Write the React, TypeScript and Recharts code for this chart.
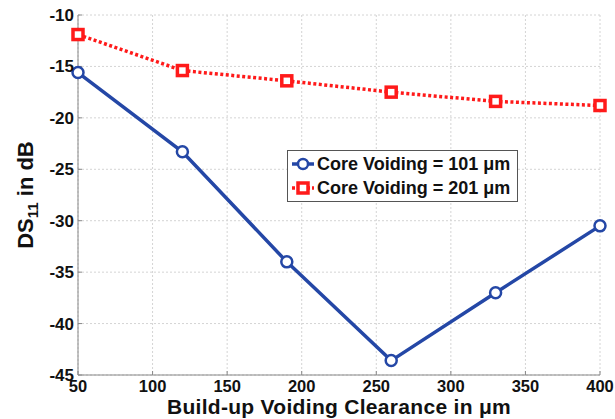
import React from 'react';
import { LineChart, Line, XAxis, YAxis, CartesianGrid } from 'recharts';

const clearance = [50, 120, 190, 260, 330, 400];
const core101 = [-15.6, -23.3, -34.0, -43.6, -37.0, -30.5];
const core201 = [-11.9, -15.4, -16.4, -17.5, -18.4, -18.8];
const xTicks = [50, 100, 150, 200, 250, 300, 350, 400];
const yTicks = [-45, -40, -35, -30, -25, -20, -15, -10];
const seriesNames = ['Core Voiding = 101 \u03BCm', 'Core Voiding = 201 \u03BCm'];

const data = clearance.map((x, i) => ({ x, a: core101[i], b: core201[i] }));

const BLUE = '#2447a6';
const RED = '#ff1a1a';
const FONT = '"Liberation Sans", Arial, sans-serif';

const BlueDot = (props: any) => {
  const { cx, cy } = props;
  if (cx == null || cy == null) return null;
  return <circle cx={cx} cy={cy} r={5.5} fill="white" stroke={BLUE} strokeWidth={2.5} />;
};
const RedDot = (props: any) => {
  const { cx, cy } = props;
  if (cx == null || cy == null) return null;
  return <rect x={cx - 5} y={cy - 5} width={10} height={10} fill="white" stroke={RED} strokeWidth={3.5} />;
};

const LegendBox = () => (
  <div style={{ position: 'absolute', left: 287, top: 150, width: 231, height: 52, border: '1px solid #555', background: 'white', fontFamily: FONT, fontWeight: 'bold', fontSize: 18, color: '#111', boxSizing: 'border-box', paddingTop: 1 }}>
    {[0, 1].map((i) => (
      <div key={i} style={{ display: 'flex', alignItems: 'center', height: 24, whiteSpace: 'nowrap' }}>
        <svg width={26} height={20} style={{ marginLeft: 2, marginRight: 1 }}>
          {i === 0 ? (
            <>
              <line x1={2} y1={10} x2={24} y2={10} stroke={BLUE} strokeWidth={3.5} />
              <circle cx={13} cy={10} r={5} fill="white" stroke={BLUE} strokeWidth={2.5} />
            </>
          ) : (
            <>
              <line x1={2} y1={10} x2={24} y2={10} stroke={RED} strokeWidth={3.5} strokeDasharray="3 2" />
              <rect x={8} y={5} width={10} height={10} fill="white" stroke={RED} strokeWidth={3.5} />
            </>
          )}
        </svg>
        <span>{seriesNames[i]}</span>
      </div>
    ))}
  </div>
);

const YTitle = () => (
  <text x={25} y={195} transform="rotate(-90 25 195)" textAnchor="middle" dominantBaseline="central" fontFamily={FONT} fontWeight="bold" fontSize={22} fill="#111">
    DS<tspan fontSize={15} dy={7}>11</tspan>
    <tspan dy={-7}> in dB</tspan>
  </text>
);

const XTitle = (props: any) => {
  const vb = props.viewBox || { x: 78, y: 375, width: 522, height: 44 };
  const cx = vb.x + vb.width / 2;
  return (
    <text x={cx} y={vb.y + 39} textAnchor="middle" fontFamily={FONT} fontWeight="bold" fontSize={21} letterSpacing={0.3} fill="#111">
      Build-up Voiding Clearance in {'\u03BC'}m
    </text>
  );
};

const tickStyle = { fill: '#111', fontFamily: FONT, fontWeight: 'bold', fontSize: 17 };
const xTickStyle = { fill: '#111', fontFamily: FONT, fontWeight: 'bold', fontSize: 16.5 };

export default function App() {
  return (
    <div style={{ position: 'absolute', left: 0, top: 0, background: 'white', width: 615, height: 419 }}>
      <LineChart width={615} height={419} data={data} margin={{ top: 15, right: 15, left: 0, bottom: 0 }}>
        <CartesianGrid stroke="#d4d4d4" strokeDasharray="2 2" />
        <XAxis
          dataKey="x"
          type="number"
          domain={[50, 400]}
          ticks={xTicks}
          height={44}
          tickSize={-4}
          tickMargin={9}
          tickLine={{ stroke: '#888' }}
          stroke="#888"
          tick={xTickStyle}
          label={<XTitle />}
        />
        <XAxis xAxisId="top" orientation="top" dataKey="x" type="number" domain={[50, 400]} ticks={xTicks} tick={false} tickSize={-4} tickLine={{ stroke: '#888' }} height={0} stroke="#888" />
        <YAxis
          type="number"
          domain={[-45, -10]}
          ticks={yTicks}
          width={78}
          tickSize={-4}
          tickMargin={8}
          tickLine={{ stroke: '#888' }}
          stroke="#888"
          tick={tickStyle}
          label={<YTitle />}
        />
        <YAxis yAxisId="right" orientation="right" domain={[-45, -10]} ticks={yTicks} tick={false} tickSize={-4} tickLine={{ stroke: '#888' }} width={0} stroke="#888" />
        <Line dataKey="b" stroke={RED} strokeWidth={3.5} strokeDasharray="3 2.5" dot={<RedDot />} isAnimationActive={false} />
        <Line dataKey="a" stroke={BLUE} strokeWidth={3.5} dot={<BlueDot />} isAnimationActive={false} />
      </LineChart>
      <LegendBox />
    </div>
  );
}
